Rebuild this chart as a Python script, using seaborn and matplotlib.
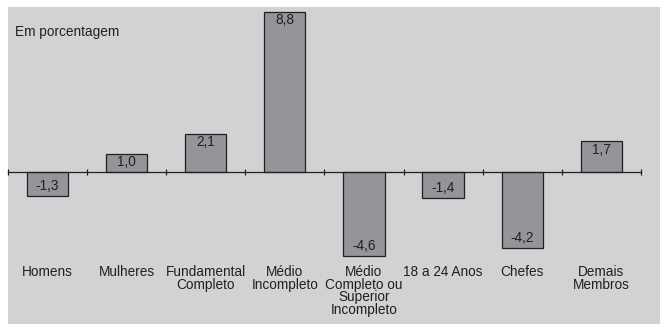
import matplotlib
matplotlib.use("Agg")
import matplotlib.pyplot as plt
import seaborn as sns
import pandas as pd
from matplotlib.ticker import FixedLocator

categorias = ["Homens", "Mulheres", "Fundamental\nCompleto", "Médio\nIncompleto",
              "Médio\nCompleto ou\nSuperior\nIncompleto", "18 a 24 Anos", "Chefes",
              "Demais\nMembros"]
variacao = [-1.3, 1.0, 2.1, 8.8, -4.6, -1.4, -4.2, 1.7]

sns.set_theme(style="white")
plt.rcParams["font.family"] = ["Liberation Sans", "DejaVu Sans"]

fundo = "#d1d2d4"
barra = "#939598"
tinta = "#231f20"
fs = 9.8

df = pd.DataFrame({"categoria": categorias, "valor": variacao})

fig = plt.figure(figsize=(6.6, 3.24), dpi=100, facecolor="white")
ax = fig.add_axes([8 / 660, 0, 652 / 660, 317 / 324])
ax.set_facecolor(fundo)

sns.barplot(data=df, x="categoria", y="valor", color=barra, edgecolor=tinta,
            linewidth=0.9, width=0.52, saturation=1, ax=ax)

ax.set_xlim(-0.5, -0.5 + 652 / 79.1)
ax.set_ylim(-8.35, 9.07)

for s in ["top", "right", "left"]:
    ax.spines[s].set_visible(False)
ax.spines["bottom"].set_position(("data", 0))
ax.spines["bottom"].set_bounds(-0.5, 7.5)
ax.spines["bottom"].set_color(tinta)
ax.spines["bottom"].set_linewidth(0.9)

ax.set_yticks([])
ax.set_xlabel("")
ax.set_ylabel("")
ax.xaxis.set_minor_locator(FixedLocator([i - 0.5 for i in range(9)]))
ax.tick_params(axis="x", which="minor", bottom=True, direction="inout",
               length=4, width=0.9, color=tinta)
ax.tick_params(axis="x", which="major", length=0, pad=67,
               labelsize=fs, labelcolor=tinta)
for lbl in ax.get_xticklabels():
    lbl.set_linespacing(0.88)
    lbl.set_verticalalignment("top")

for i, v in enumerate(variacao):
    texto = f"{v:.1f}".replace(".", ",")
    off = -8.5 if v > 0 else 10
    ax.annotate(texto, (i, v), xytext=(0, off), textcoords="offset pixels",
                ha="center", va="center", fontsize=fs, color=tinta)

ax.text(7 / 652, 1 - 25 / 317, "Em porcentagem", transform=ax.transAxes,
        ha="left", va="center", fontsize=fs, color=tinta)

fig.savefig("out.png", dpi=100, facecolor="white")
